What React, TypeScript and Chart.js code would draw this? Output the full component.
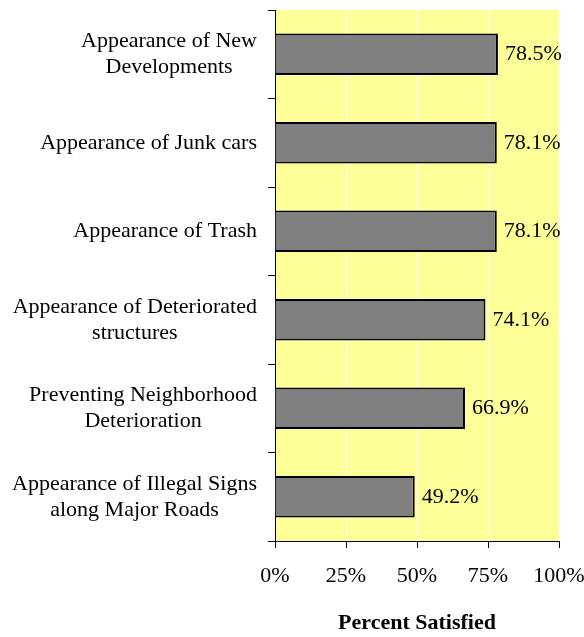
import React, { useEffect, useRef } from "react";
import { Chart, registerables } from "chart.js";

Chart.register(...registerables);

const categories: string[][] = [
  ["Appearance of New", "Developments"],
  ["Appearance of Junk cars"],
  ["Appearance of Trash"],
  ["Appearance of Deteriorated", "structures"],
  ["Preventing Neighborhood", "Deterioration"],
  ["Appearance of Illegal Signs", "along Major Roads"],
];
const percentSatisfied: number[] = [78.5, 78.1, 78.1, 74.1, 66.9, 49.2];
const xTicks: number[] = [0, 25, 50, 75, 100];
const axisTitle = "Percent Satisfied";

const FONT = '"Liberation Serif", "Times New Roman", serif';

const bgPlugin = {
  id: "plotBg",
  beforeDraw(chart: any) {
    const { ctx, chartArea } = chart;
    ctx.save();
    ctx.fillStyle = "#FFFF99";
    ctx.fillRect(chartArea.left, chartArea.top, chartArea.right - chartArea.left, chartArea.bottom - chartArea.top);
    ctx.restore();
  },
};

const catLabelPlugin = {
  id: "catLabels",
  afterDraw(chart: any) {
    const { ctx, chartArea } = chart;
    const yScale = chart.scales.y;
    const labels = chart.data.labels as string[][];
    ctx.save();
    ctx.font = `22px ${FONT}`;
    ctx.fillStyle = "#000";
    ctx.textAlign = "center";
    ctx.textBaseline = "middle";
    const right = chartArea.left - 18;
    const lh = 26;
    labels.forEach((lines, i) => {
      const cy = yScale.getPixelForValue(i);
      const bw = Math.max(...lines.map((l) => ctx.measureText(l).width));
      const cx = right - bw / 2;
      lines.forEach((l, j) => {
        ctx.fillText(l, cx, cy + (j - (lines.length - 1) / 2) * lh);
      });
    });
    ctx.restore();
  },
};

const valueLabelPlugin = {
  id: "valueLabels",
  afterDatasetsDraw(chart: any) {
    const { ctx } = chart;
    const meta = chart.getDatasetMeta(0);
    const data = chart.data.datasets[0].data as number[];
    ctx.save();
    ctx.font = `22px ${FONT}`;
    ctx.fillStyle = "#000";
    ctx.textAlign = "left";
    ctx.textBaseline = "middle";
    meta.data.forEach((bar: any, i: number) => {
      ctx.fillText(data[i].toFixed(1) + "%", bar.x + 7, bar.y);
    });
    ctx.restore();
  },
};

export default function App() {
  const canvasRef = useRef<HTMLCanvasElement>(null);

  useEffect(() => {
    if (!canvasRef.current) return;
    const chart = new Chart(canvasRef.current, {
      type: "bar",
      data: {
        labels: categories as any,
        datasets: [
          {
            data: percentSatisfied,
            backgroundColor: "#808080",
            borderColor: "#000000",
            borderWidth: 2,
            borderSkipped: "start",
            categoryPercentage: 1,
            barPercentage: 0.47,
          },
        ],
      },
      options: {
        indexAxis: "y",
        animation: false,
        responsive: true,
        maintainAspectRatio: false,
        layout: { padding: { top: 10, right: 25, left: 0, bottom: 0 } },
        plugins: {
          legend: { display: false },
          tooltip: { enabled: false },
          title: { display: false },
        },
        scales: {
          x: {
            type: "linear",
            min: 0,
            max: 100,
            afterBuildTicks: (scale: any) => {
              scale.ticks = xTicks.map((v) => ({ value: v }));
            },
            afterFit: (scale: any) => {
              scale.height = 96;
              scale.paddingLeft = 0;
              scale.paddingRight = 0;
            },
            ticks: {
              color: "#000",
              font: { family: FONT, size: 22 },
              padding: 15,
              maxRotation: 0,
              callback: (v: any) => v + "%",
            },
            grid: {
              color: (ctx: any) =>
                ctx.tick && (ctx.tick.value === 0 || ctx.tick.value === 100) ? "rgba(0,0,0,0)" : "#FFFFFF",
              tickColor: "#000",
              tickLength: 7,
              lineWidth: 1,
            },
            border: { display: true, color: "#000", width: 1 },
            title: {
              display: true,
              text: axisTitle,
              color: "#000",
              font: { family: FONT, size: 22, weight: "bold" },
              padding: { top: 0, bottom: 0 },
            },
          },
          y: {
            type: "category",
            afterFit: (scale: any) => {
              scale.width = 275;
              scale.paddingTop = 0;
              scale.paddingBottom = 0;
            },
            ticks: { display: false },
            grid: {
              offset: true,
              drawOnChartArea: false,
              tickColor: "#000",
              tickLength: 7,
              color: "#000",
            },
            border: { display: true, color: "#000", width: 1 },
          },
        },
      },
      plugins: [bgPlugin, catLabelPlugin, valueLabelPlugin],
    });
    return () => chart.destroy();
  }, []);

  return (
    <div style={{ position: "fixed", left: 0, top: 0, width: 584, height: 637, background: "#fff" }}>
      <canvas ref={canvasRef} />
    </div>
  );
}
